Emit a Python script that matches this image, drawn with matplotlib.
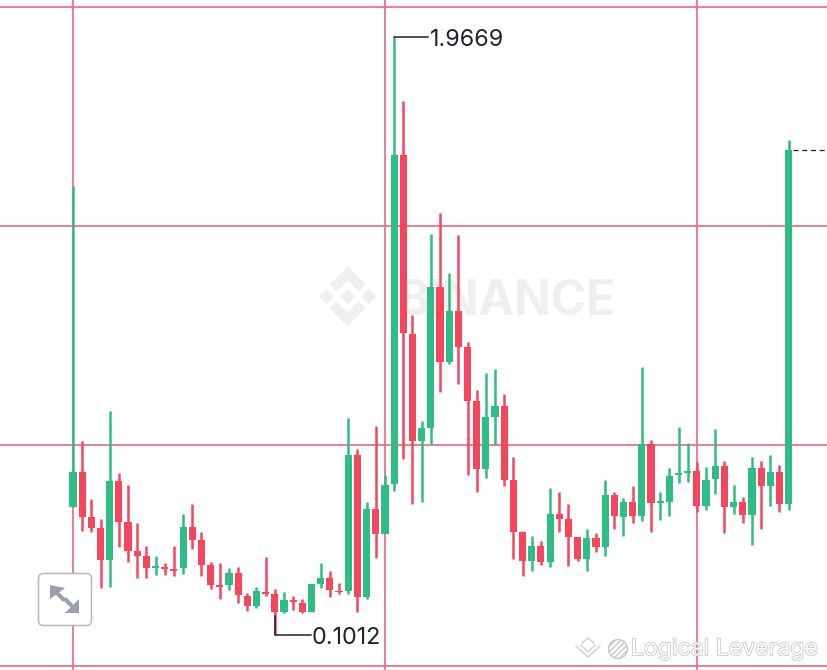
import matplotlib
matplotlib.use('Agg')
import matplotlib.pyplot as plt
import matplotlib.patheffects as pe
from matplotlib.patches import FancyBboxPatch, Polygon, Circle

# candles (price)
opens = [.501, .610, .469, .435, .335, .582, .454, .363, .348, .310,
         .314, .307, .310, .438, .398, .320, .257, .257, .295, .223,
         .192, .235, .229, .173, .210, .201, .173, .260, .279, .238,
         .238, .663, .220, .494, .416, .572, 1.599, 1.040, .706, .747,
         1.187, .953, 1.112, 1.000, .831, .619, .781, .816, .585, .423,
         .332, .379, .329, .479, .463, .407, .338, .404, .376, .538,
         .469, .516, .473, .697, .513, .516, .600, .607, .613, .504,
         .588, .628, .501, .516, .476, .622, .566, .610, .510]
closes = [.610, .469, .435, .335, .582, .454, .363, .348, .310, .317,
          .307, .301, .438, .398, .320, .257, .251, .295, .226, .192,
          .238, .229, .173, .210, .204, .173, .260, .279, .242, .235,
          .663, .220, .494, .416, .569, 1.599, 1.043, .706, .747, 1.187,
          .953, 1.112, 1.000, .831, .619, .781, .816, .585, .423, .332,
          .379, .329, .479, .463, .407, .338, .404, .376, .538, .473,
          .516, .473, .697, .513, .519, .597, .607, .613, .504, .585,
          .628, .501, .516, .476, .622, .566, .610, .510, 1.614]
highs = [1.502, .706, .526, .463, .800, .607, .569, .451, .379, .348,
         .326, .379, .479, .510, .423, .329, .326, .310, .314, .232,
         .251, .345, .245, .235, .223, .213, .260, .326, .301, .263,
         .778, .681, .516, .753, .600, 1.9669, 1.767, 1.100, .769, 1.352,
         1.418, 1.231, 1.349, 1.015, .866, .919, .931, .853, .656, .426,
         .410, .394, .560, .547, .510, .407, .432, .420, .585, .547,
         .529, .566, .937, .710, .547, .622, .750, .700, .641, .625,
         .744, .644, .569, .532, .656, .644, .663, .632, 1.646]
lows = [.501, .426, .423, .248, .251, .376, .329, .279, .279, .288,
        .288, .285, .292, .370, .285, .245, .213, .242, .201, .176,
        .185, .223, .1012, .170, .179, .170, .173, .248, .220, .229,
        .229, .173, .213, .342, .416, .551, .650, .510, .516, .697,
        .859, .947, .884, .600, .547, .591, .694, .566, .338, .285,
        .301, .320, .314, .423, .317, .332, .301, .360, .348, .432,
        .410, .451, .457, .423, .460, .473, .575, .579, .485, .491,
        .541, .420, .479, .451, .382, .432, .504, .485, .491]

grid_prices = [2.061, 1.377, .694, .0045]
grid_candles = [0, 34, 68]

GREEN = '#2ebd85'
RED = '#f6465d'
GRID = '#e8687f'
INK = '#1e2329'
MARK = '#eef0f0'
ARROW = '#9aa1ab'

fig = plt.figure(figsize=(8.28, 6.7), dpi=100, facecolor='white')

# watermark sits under the candles
back = fig.add_axes([0, 0, 1, 1], zorder=0)
back.set_xlim(0, 828)
back.set_ylim(670, 0)
back.axis('off')
cx, cy = 347.5, 296.5
shapes = [
    [(0, -7.5), (7.5, 0), (0, 7.5), (-7.5, 0)],
    [(-21, -7.5), (-13.5, 0), (-21, 7.5), (-29, 0)],
    [(21, -7.5), (13.5, 0), (21, 7.5), (29, 0)],
    [(0, -30), (18, -12), (11, -5), (0, -16), (-11, -5), (-18, -12)],
    [(0, 30), (18, 12), (11, 5), (0, 16), (-11, 5), (-18, 12)],
]
for s in shapes:
    back.add_patch(Polygon([(cx + a, cy + b) for a, b in s], fc=MARK, ec='none'))
back.text(398, 297, 'BINANCE', color=MARK, family='Inter', weight='bold',
          fontsize=34.5, va='center_baseline', ha='left')

# candles
ax = fig.add_axes([0, 0, 1, 1], zorder=1)
ax.patch.set_alpha(0)
xmin, xmax = -7.956, 82.29
ax.set_xlim(xmin, xmax)
ax.set_ylim(-0.008, 2.0824)
ax.axis('off')

for p in grid_prices:
    ax.axhline(p, color=GRID, lw=1.2, zorder=1)
for c in grid_candles:
    ax.axvline(c, color=GRID, lw=1.2, zorder=1)

for i in range(len(opens)):
    col = GREEN if closes[i] >= opens[i] else RED
    ax.vlines(i, lows[i], highs[i], color=col, lw=1.8, zorder=2)
    ax.bar(i, abs(closes[i] - opens[i]), bottom=min(opens[i], closes[i]),
           width=0.78, color=col, lw=0, zorder=3)

# high / low labels
hi = highs.index(max(highs))
lo = lows.index(min(lows))
ax.plot([hi, hi + 3.7], [highs[hi], highs[hi]], color=INK, lw=1.1, zorder=4)
ax.text(hi + 3.9, highs[hi], '%.4f' % highs[hi], color=INK, family='Inter',
        fontsize=16.8, va='center_baseline', ha='left', zorder=4)
ax.plot([lo, lo, lo + 3.9], [lows[lo] + 0.06, lows[lo], lows[lo]], color=INK, lw=1.1, zorder=4)
ax.text(lo + 4.0, lows[lo], '%.4f' % lows[lo], color=INK, family='Inter',
        fontsize=16.8, va='center_baseline', ha='left', zorder=4)

# last price
ax.plot([len(opens) - 1 + 0.45, xmax], [closes[-1], closes[-1]], color=INK, lw=0.9,
        dashes=(4, 3), zorder=4)

# button and footer on top
top = fig.add_axes([0, 0, 1, 1], zorder=2)
top.patch.set_alpha(0)
top.set_xlim(0, 828)
top.set_ylim(670, 0)
top.axis('off')
top.add_patch(FancyBboxPatch((42, 577), 46, 45, boxstyle='round,pad=3.5,rounding_size=5',
                             fc='white', ec='#b4b8bf', lw=1.1))
top.add_patch(Polygon([(50, 585), (65, 588), (50, 599)], fc=ARROW, ec='none'))
top.add_patch(Polygon([(79, 613), (65, 613), (79, 599)], fc=ARROW, ec='none'))
top.plot([55, 63], [591, 599], color=ARROW, lw=3)
top.plot([74, 66], [608, 600], color=ARROW, lw=3)

top.text(631, 649, 'Logical Leverage', color='white', family='Inter', fontsize=16.6,
         va='center', ha='left',
         path_effects=[pe.withStroke(linewidth=1.0, foreground='#bfc1c4')])
top.plot([576, 588, 600], [646, 657, 646], color='#cfd1d3', lw=1)
top.plot([581, 588, 595], [645, 652, 645], color='#cfd1d3', lw=1)
top.plot([582, 588, 594], [643, 638, 643], color='#cfd1d3', lw=1)
top.add_patch(Circle((618, 649), 9.5, fc='white', ec='#c4c6c9', lw=1, hatch='//////'))

fig.savefig('out.png', dpi=100)
